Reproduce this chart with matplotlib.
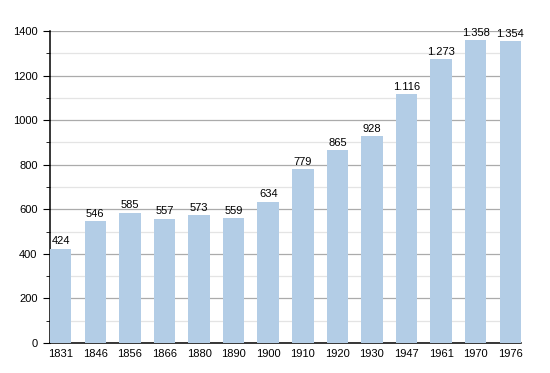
import matplotlib.pyplot as plt
from matplotlib.ticker import MultipleLocator

years = ["1831", "1846", "1856", "1866", "1880", "1890", "1900",
         "1910", "1920", "1930", "1947", "1961", "1970", "1976"]
population = [424, 546, 585, 557, 573, 559, 634, 779, 865, 928, 1116, 1273, 1358, 1354]

plt.rcParams['font.family'] = ['Liberation Sans', 'DejaVu Sans']

fig = plt.figure(figsize=(5.5, 3.73), dpi=100)
ax = fig.add_axes([50 / 550, 30 / 373, 471 / 550, 312 / 373])

width = 0.62
x = range(len(years))
ax.bar(x, population, width=width, color="#b3cde6", zorder=3)

for i, v in enumerate(population):
    label = f"{v:,}".replace(",", ".")
    ax.text(i, v + 12, label, ha="center", va="bottom", fontsize=8, zorder=4)

ax.set_xlim(-width / 2, len(years) - 1 + width / 2)
ax.set_ylim(0, 1400)
ax.set_xticks(list(x))
ax.set_xticklabels(years)
ax.yaxis.set_major_locator(MultipleLocator(200))
ax.yaxis.set_minor_locator(MultipleLocator(100))

ax.grid(axis="y", which="major", color="#ababab", linewidth=0.9, zorder=0)
ax.grid(axis="y", which="minor", color="#e4e4e4", linewidth=0.9, zorder=0)

ax.tick_params(axis="x", length=0, labelsize=8, pad=4)
ax.tick_params(axis="y", which="major", length=5, labelsize=8, pad=4)
ax.tick_params(axis="y", which="minor", length=3)

for s in ["top", "right"]:
    ax.spines[s].set_visible(False)
ax.spines["left"].set_linewidth(1.1)
ax.spines["bottom"].set_linewidth(1.1)

fig.savefig("out.png", dpi=100)
